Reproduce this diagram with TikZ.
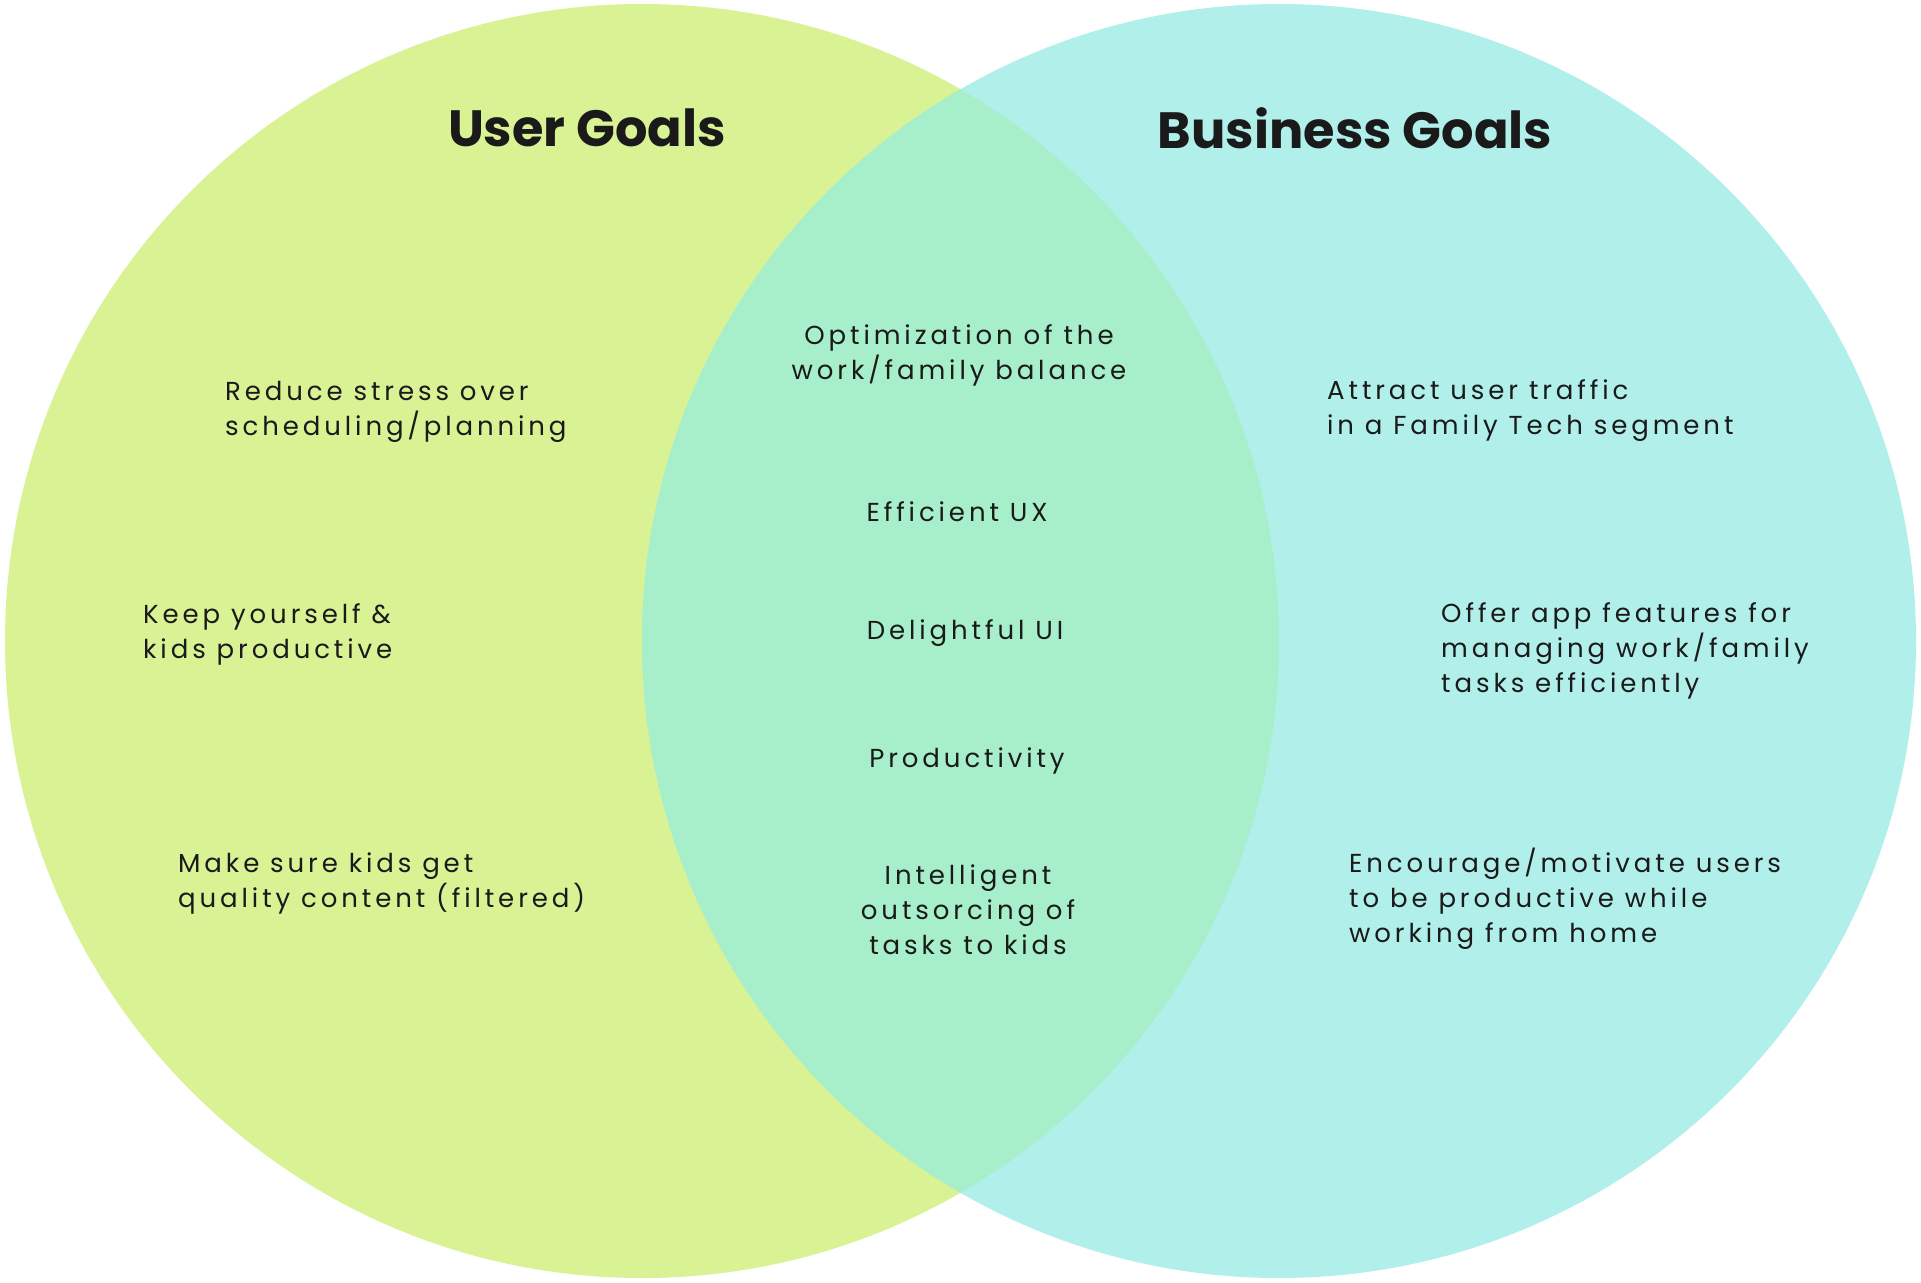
\documentclass[tikz,border=0pt]{standalone}
\usepackage{fontspec}
\setmainfont{Poppins}
\newfontfamily\bodyfont{Poppins}[LetterSpace=15]
\newfontfamily\titlefont{Poppins}[UprightFont=* Bold, LetterSpace=0]
\definecolor{usergreen}{HTML}{D9F294}
\definecolor{bizcyan}{HTML}{B1F0EA}
\definecolor{overlapc}{HTML}{A6EFCA}
\definecolor{inkc}{HTML}{1A1A1A}
\tikzset{
  goal/.style={inner sep=0pt, text=inkc, font=\bodyfont\fontsize{26}{35}\selectfont},
  lgoal/.style={goal, anchor=west, align=left},
  cgoal/.style={goal, anchor=center, align=center},
  title/.style={inner sep=0pt, text=inkc, font=\titlefont\fontsize{51}{56}\selectfont}
}
\begin{document}
\begin{tikzpicture}[x=1pt,y=-1pt]
\useasboundingbox (0,0) rectangle (1921,1282);
\fill[white] (0,0) rectangle (1921,1282);
\fill[usergreen] (642,641) circle (637);
\fill[bizcyan] (1279,641) circle (637);
\begin{scope}
  \clip (642,641) circle (637);
  \fill[overlapc] (1279,641) circle (637);
\end{scope}
\node[title] (tu) at (587,128) {User Goals};
\node[title] (tb) at (1355,128) {Business Goals};
\node[cgoal] (c1) at (959,355) {Optimization of the\\work/family balance};
\node[cgoal] (c2) at (957,512) {Efficient UX};
\node[cgoal] (c3) at (965,633) {Delightful UI};
\node[cgoal] (c4) at (967,761) {Productivity};
\node[cgoal] (c5) at (968,910) {Intelligent\\outsorcing of\\tasks to kids};
\node[lgoal] (u1) at (225,412) {Reduce stress over\\scheduling/planning};
\node[lgoal] (u2) at (143,634) {Keep yourself \&\\kids productive};
\node[lgoal] (u3) at (178,883) {Make sure kids get\\quality content (filtered)};
\node[lgoal] (b1) at (1327,411) {Attract user traffic\\in a Family Tech segment};
\node[lgoal] (b2) at (1441,651) {Offer app features for\\managing work/family\\tasks efficiently};
\node[lgoal] (b3) at (1349,899) {Encourage/motivate users\\to be productive while\\working from home};
\end{tikzpicture}
\end{document}
